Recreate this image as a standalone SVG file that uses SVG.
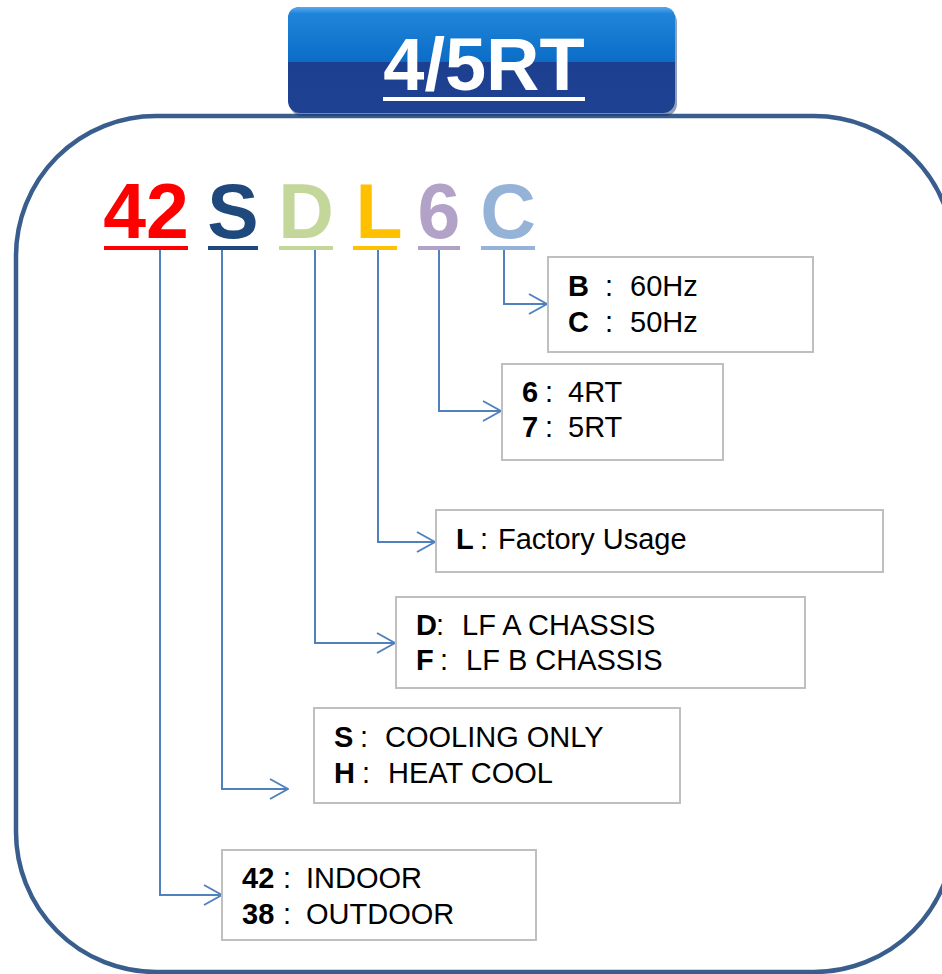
<svg xmlns="http://www.w3.org/2000/svg" width="942" height="974" viewBox="0 0 942 974">
<defs>
<linearGradient id="gTop" x1="0" y1="0" x2="0" y2="1">
<stop offset="0" stop-color="#5aaaf0"/>
<stop offset="0.12" stop-color="#1f85da"/>
<stop offset="1" stop-color="#0b6dc6"/>
</linearGradient>
<linearGradient id="gBot" x1="0" y1="0" x2="0" y2="1">
<stop offset="0" stop-color="#1a3d8e"/>
<stop offset="1" stop-color="#1e4192"/>
</linearGradient>
<marker id="arr" viewBox="0 0 20 22" refX="19" refY="11" markerWidth="20" markerHeight="22" markerUnits="userSpaceOnUse" orient="auto">
<path d="M1,1 L19,11 L1,21" fill="none" stroke="#4f81bd" stroke-width="2"/>
</marker>
</defs>
<style>
.frame{fill:#fff;stroke:#395e8e;stroke-width:4.5}
.box{fill:#fff;stroke:#bfbfbf;stroke-width:2}
.t{font-family:"Liberation Sans",Arial,sans-serif;font-size:29px;fill:#000}
.b{font-weight:bold}
.code{font-family:"Liberation Sans",Arial,sans-serif;font-size:77px;font-weight:bold;text-anchor:middle}
.con{fill:none;stroke:#4f81bd;stroke-width:2;marker-end:url(#arr)}
</style>
<rect width="942" height="974" fill="#fff"/>
<rect class="frame" x="16" y="116" width="938" height="856" rx="140" ry="140"/>
<g id="title">
<rect x="290" y="10" width="387" height="106" rx="12" fill="#0d2a66" opacity="0.45"/>
<rect x="288" y="7" width="387" height="106" rx="12" fill="url(#gBot)"/>
<path d="M288,62 V19 Q288,7 300,7 H663 Q675,7 675,19 V62 Z" fill="url(#gTop)"/>
<text x="484" y="90" text-anchor="middle" font-family="'Liberation Sans',Arial,sans-serif" font-size="74" font-weight="bold" fill="#fff">4/5RT</text>
<rect x="383" y="97" width="202" height="4" fill="#fff"/>
</g>
<g id="code">
<text class="code" x="146" y="238" fill="#ff0000">42</text>
<rect x="104" y="246" width="84" height="4" fill="#ff0000"/>
<text class="code" x="233" y="238" fill="#1f497d">S</text>
<rect x="208" y="246" width="50" height="4" fill="#1f497d"/>
<text class="code" x="306" y="238" fill="#c4d79b">D</text>
<rect x="279" y="246" width="54" height="4" fill="#c4d79b"/>
<text class="code" x="379" y="238" fill="#ffc000">L</text>
<rect x="353" y="246" width="44" height="4" fill="#ffc000"/>
<text class="code" x="439" y="238" fill="#b3a2c7">6</text>
<rect x="418" y="246" width="42" height="4" fill="#b3a2c7"/>
<text class="code" x="508" y="238" fill="#95b3d7">C</text>
<rect x="481" y="246" width="54" height="4" fill="#95b3d7"/>
</g>
<g id="connectors">
<path class="con" d="M504,250 V304 H547"/>
<path class="con" d="M439,250 V411 H501"/>
<path class="con" d="M378,250 V542 H435"/>
<path class="con" d="M315,250 V643 H395"/>
<path class="con" d="M222,250 V789 H288"/>
<path class="con" d="M160,250 V895 H222"/>
</g>
<g id="box-freq">
<rect class="box" x="548" y="257" width="265" height="95"/>
<text class="t"><tspan class="b" x="568" y="296">B</tspan><tspan x="605" y="296">:</tspan><tspan x="630" y="296">60Hz</tspan></text>
<text class="t"><tspan class="b" x="568" y="332">C</tspan><tspan x="605" y="332">:</tspan><tspan x="630" y="332">50Hz</tspan></text>
</g>
<g id="box-cap">
<rect class="box" x="502" y="364" width="221" height="96"/>
<text class="t"><tspan class="b" x="522" y="402">6</tspan><tspan x="545" y="402">:</tspan><tspan x="568" y="402">4RT</tspan></text>
<text class="t"><tspan class="b" x="522" y="437">7</tspan><tspan x="545" y="437">:</tspan><tspan x="568" y="437">5RT</tspan></text>
</g>
<g id="box-factory">
<rect class="box" x="436" y="510" width="447" height="62"/>
<text class="t"><tspan class="b" x="456" y="549">L</tspan><tspan x="480" y="549">:</tspan><tspan x="498" y="549">Factory Usage</tspan></text>
</g>
<g id="box-chassis">
<rect class="box" x="396" y="597" width="409" height="91"/>
<text class="t"><tspan class="b" x="416" y="635">D</tspan><tspan x="436" y="635">:</tspan><tspan x="462" y="635">LF A CHASSIS</tspan></text>
<text class="t"><tspan class="b" x="416" y="670">F</tspan><tspan x="440" y="670">:</tspan><tspan x="466" y="670">LF B CHASSIS</tspan></text>
</g>
<g id="box-mode">
<rect class="box" x="314" y="708" width="366" height="95"/>
<text class="t"><tspan class="b" x="334" y="747">S</tspan><tspan x="360" y="747">:</tspan><tspan x="385" y="747">COOLING ONLY</tspan></text>
<text class="t"><tspan class="b" x="334" y="783">H</tspan><tspan x="362" y="783">:</tspan><tspan x="388" y="783">HEAT COOL</tspan></text>
</g>
<g id="box-unit">
<rect class="box" x="222" y="850" width="314" height="90"/>
<text class="t"><tspan class="b" x="242" y="888">42</tspan><tspan x="283" y="888">:</tspan><tspan x="306" y="888">INDOOR</tspan></text>
<text class="t"><tspan class="b" x="242" y="924">38</tspan><tspan x="283" y="924">:</tspan><tspan x="306" y="924">OUTDOOR</tspan></text>
</g>
</svg>
